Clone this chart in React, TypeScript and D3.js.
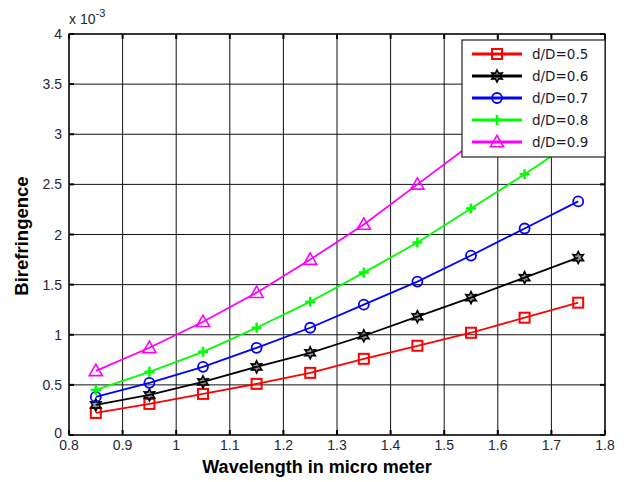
import React from 'react';
import * as d3 from 'd3';

// data (values x 1e-3)
const wavelengths = [0.85, 0.95, 1.05, 1.15, 1.25, 1.35, 1.45, 1.55, 1.65, 1.75];
const ratio05 = [0.22, 0.31, 0.41, 0.51, 0.62, 0.76, 0.89, 1.02, 1.17, 1.32];
const ratio06 = [0.30, 0.40, 0.53, 0.68, 0.82, 0.99, 1.18, 1.37, 1.57, 1.77];
const ratio07 = [0.38, 0.52, 0.68, 0.87, 1.07, 1.30, 1.53, 1.79, 2.06, 2.33];
const ratio08 = [0.45, 0.63, 0.83, 1.07, 1.33, 1.62, 1.92, 2.26, 2.60, 2.96];
const ratio09 = [0.64, 0.87, 1.13, 1.42, 1.75, 2.10, 2.50, 2.90, 3.30, 3.72];
const seriesNames = ['d/D=0.5', 'd/D=0.6', 'd/D=0.7', 'd/D=0.8', 'd/D=0.9'];
const seriesColors = ['#ff0000', '#000000', '#0000ff', '#00ff00', '#ff00ff'];
const seriesMarkers = ['square', 'hexagram', 'circle', 'plus', 'triangle'];
const xTicks = [0.8, 0.9, 1, 1.1, 1.2, 1.3, 1.4, 1.5, 1.6, 1.7, 1.8];
const yTicks = [0, 0.5, 1, 1.5, 2, 2.5, 3, 3.5, 4];

const W = 627;
const H = 482;
const margin = { top: 34, right: 22, bottom: 47, left: 69 };
const plotW = W - margin.left - margin.right;
const plotH = H - margin.top - margin.bottom;

const x = d3.scaleLinear().domain([0.8, 1.8]).range([0, plotW]);
const y = d3.scaleLinear().domain([0, 4]).range([plotH, 0]);

const allSeries = [ratio05, ratio06, ratio07, ratio08, ratio09];

const hexagram = () => {
  const pts: [number, number][] = [];
  for (let i = 0; i < 12; i++) {
    const a = (i * Math.PI) / 6;
    pts.push([a, i % 2 === 0 ? 6 : 3.2]);
  }
  return d3.lineRadial().curve(d3.curveLinearClosed)(pts) as string;
};

const Marker = ({ kind, color }: { kind: string; color: string }) => {
  if (kind === 'square') return <rect x={-5} y={-5} width={10} height={10} fill="none" stroke={color} strokeWidth={2} />;
  if (kind === 'circle') return <circle r={5} fill="none" stroke={color} strokeWidth={1.8} />;
  if (kind === 'plus')
    return <path d="M-5,0H5M0,-5V5" stroke={color} strokeWidth={2.5} fill="none" />;
  if (kind === 'triangle')
    return <path d={d3.symbol().type(d3.symbolTriangle).size(75)() as string} fill="none" stroke={color} strokeWidth={1.6} transform="translate(0,1)" />;
  return <path d={hexagram()} fill={color} fillOpacity={0.4} stroke={color} strokeWidth={1.6} />;
};

export default function App() {
  const line = d3
    .line<number>()
    .x((_, i) => x(wavelengths[i]))
    .y(d => y(d));

  const tickColor = '#26263a';
  const legendX = 462 - margin.left;
  const legendY = 40 - margin.top;

  return (
    <svg width={W} height={H} style={{ position: 'absolute', left: 0, top: 0, background: '#fff' }}>
      <g transform={`translate(${margin.left},${margin.top})`}>
        {/* grid */}
        {xTicks.map(t => (
          <line key={'gx' + t} x1={x(t)} x2={x(t)} y1={0} y2={plotH} stroke="#111" strokeWidth={1} />
        ))}
        {yTicks.map(t => (
          <line key={'gy' + t} x1={0} x2={plotW} y1={y(t)} y2={y(t)} stroke="#111" strokeWidth={1} />
        ))}
        {/* inner ticks */}
        {xTicks.map(t => (
          <g key={'tx' + t}>
            <line x1={x(t)} x2={x(t)} y1={plotH} y2={plotH - 5} stroke="#000" strokeWidth={2} />
            <line x1={x(t)} x2={x(t)} y1={0} y2={5} stroke="#000" strokeWidth={2} />
          </g>
        ))}
        {yTicks.map(t => (
          <g key={'ty' + t}>
            <line x1={0} x2={5} y1={y(t)} y2={y(t)} stroke="#000" strokeWidth={2} />
            <line x1={plotW} x2={plotW - 5} y1={y(t)} y2={y(t)} stroke="#000" strokeWidth={2} />
          </g>
        ))}
        <rect x={0} y={0} width={plotW} height={plotH} fill="none" stroke="#000" strokeWidth={1.2} />

        {/* series */}
        {allSeries.map((s, k) => (
          <g key={'s' + k}>
            <path d={line(s) as string} fill="none" stroke={seriesColors[k]} strokeWidth={1.8} />
            {s.map((v, i) => (
              <g key={i} transform={`translate(${x(wavelengths[i])},${y(v)})`}>
                <Marker kind={seriesMarkers[k]} color={seriesColors[k]} />
              </g>
            ))}
          </g>
        ))}

        {/* tick labels */}
        {xTicks.map(t => (
          <text key={'lx' + t} x={x(t)} y={plotH + 15} textAnchor="middle" fontFamily="Liberation Sans, Arial, sans-serif" fontSize={14} fill={tickColor}>
            {t}
          </text>
        ))}
        {yTicks.map(t => (
          <text key={'ly' + t} x={-7} y={y(t) + (t === 0 ? 3 : 5)} textAnchor="end" fontFamily="Liberation Sans, Arial, sans-serif" fontSize={14} fill={tickColor}>
            {t}
          </text>
        ))}
        <text x={0} y={-10} fontFamily="Liberation Sans, Arial, sans-serif" fontSize={14} fill={tickColor}>
          x 10
          <tspan dy={-7} fontSize={11}>-3</tspan>
        </text>

        {/* legend */}
        <g transform={`translate(${legendX},${legendY})`}>
          <rect x={0} y={0} width={143} height={117} fill="#fff" stroke="#222" strokeWidth={1.2} />
          {seriesNames.map((n, k) => (
            <g key={n} transform={`translate(0,${14 + k * 22})`}>
              <line x1={10} x2={60} y1={0} y2={0} stroke={seriesColors[k]} strokeWidth={3} />
              <g transform="translate(35,0)">
                <Marker kind={seriesMarkers[k]} color={seriesColors[k]} />
              </g>
              <text x={70} y={5} fontFamily="DejaVu Sans, sans-serif" fontSize={13.5} fill="#1a1a2a">
                {n}
              </text>
            </g>
          ))}
        </g>
      </g>

      {/* axis titles */}
      <text x={317} y={473} textAnchor="middle" fontFamily="Liberation Sans, Arial, sans-serif" fontWeight="bold" fontSize={18}>
        Wavelength in micro meter
      </text>
      <text transform={`translate(28,236) rotate(-90)`} textAnchor="middle" fontFamily="Liberation Sans, Arial, sans-serif" fontWeight="bold" fontSize={18.5}>
        Birefringence
      </text>
    </svg>
  );
}
